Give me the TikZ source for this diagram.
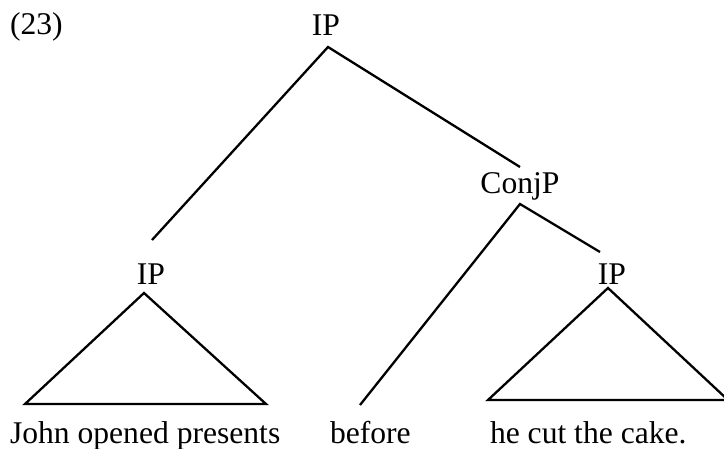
\documentclass[tikz,border=0pt]{standalone}
\usepackage{fontspec}
\setmainfont{Liberation Serif}
\begin{document}
\begin{tikzpicture}[x=1pt,y=-1pt,
  lbl/.style={inner sep=0pt,outer sep=0pt,font=\fontsize{31.6}{36}\selectfont},
  branch/.style={line width=2.3pt,line cap=butt,line join=miter}]
\useasboundingbox (0,0) rectangle (724,449);

% labels
\node[lbl,anchor=base west] (num) at (10,35) {(23)};
\node[lbl,anchor=base] (ipTop) at (326,36) {IP};
\node[lbl,anchor=base] (conj) at (520,194) {ConjP};
\node[lbl,anchor=base] (ipL) at (151,285) {IP};
\node[lbl,anchor=base] (ipR) at (612,285) {IP};
\node[lbl,anchor=base west] (john) at (10,443) {John opened presents};
\node[lbl,anchor=base west] (before) at (330,443) {before};
\node[lbl,anchor=base west] (cake) at (490,443) {he cut the cake.};

% branch end points
\coordinate (topA) at (328,47);
\coordinate (ipLup) at (152,240);
\coordinate (conjUp) at (520,167);
\coordinate (conjA) at (520,204);
\coordinate (beforeUp) at (360,405);
\coordinate (ipRup) at (600,252);
\coordinate (triLA) at (144,293);
\coordinate (triLl) at (25,404);
\coordinate (triLr) at (266,404);
\coordinate (triRA) at (608,288);
\coordinate (triRl) at (488,400);
\coordinate (triRr) at (728,400);

% branches
\draw[branch] (ipLup) -- (topA) -- (conjUp);
\draw[branch] (beforeUp) -- (conjA) -- (ipRup);
\draw[branch] (triLA) -- (triLl) -- (triLr) -- cycle;
\draw[branch] (triRA) -- (triRl) -- (triRr) -- cycle;
\end{tikzpicture}
\end{document}
